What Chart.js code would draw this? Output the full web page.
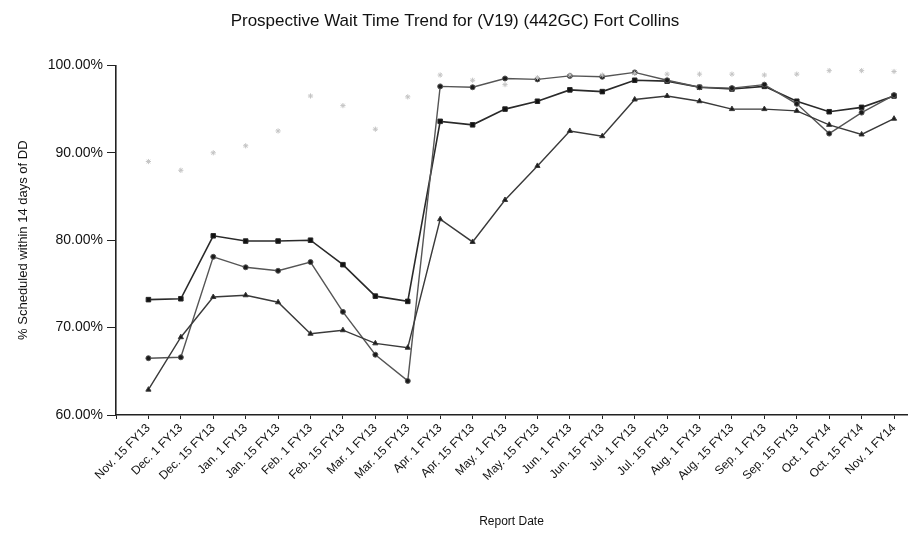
<!DOCTYPE html>
<html>
<head>
<meta charset="utf-8">
<script src="https://cdn.jsdelivr.net/npm/chart.js@4.4.1/dist/chart.umd.min.js"></script>
<style>
  html, body { margin: 0; padding: 0; background: #fff; }
  #wrap { width: 912px; height: 533px; }
</style>
</head>
<body>
<div id="wrap"><canvas id="waitChart" width="912" height="533"></canvas></div>
<script>
let reportDates = [
    "Nov. 15 FY13", "Dec. 1 FY13", "Dec. 15 FY13", "Jan. 1 FY13", "Jan. 15 FY13",
    "Feb. 1 FY13", "Feb. 15 FY13", "Mar. 1 FY13", "Mar. 15 FY13", "Apr. 1 FY13",
    "Apr. 15 FY13", "May. 1 FY13", "May. 15 FY13", "Jun. 1 FY13", "Jun. 15 FY13",
    "Jul. 1 FY13", "Jul. 15 FY13", "Aug. 1 FY13", "Aug. 15 FY13", "Sep. 1 FY13",
    "Sep. 15 FY13", "Oct. 1 FY14", "Oct. 15 FY14", "Nov. 1 FY14"
];

let squareSeries = [73.2, 73.3, 80.5, 79.9, 79.9, 80.0, 77.2, 73.6, 73.0, 93.6, 93.2, 95.0,
    95.9, 97.2, 97.0, 98.3, 98.2, 97.5, 97.3, 97.6, 95.9, 94.7, 95.2, 96.5];
let diamondSeries = [66.5, 66.6, 78.1, 76.9, 76.5, 77.5, 71.8, 66.9, 63.9, 97.6, 97.5, 98.5,
    98.4, 98.8, 98.7, 99.2, 98.3, 97.5, 97.4, 97.8, 95.6, 92.2, 94.6, 96.6];
let triangleSeries = [62.9, 68.9, 73.5, 73.7, 72.9, 69.3, 69.7, 68.2, 67.7, 82.4, 79.8, 84.6,
    88.5, 92.5, 91.9, 96.1, 96.5, 95.9, 95.0, 95.0, 94.8, 93.2, 92.1, 93.9];
let faintSeries = [89.0, 88.0, 90.0, 90.8, 92.5, 96.5, 95.4, 92.7, 96.4, 98.9, 98.3, 97.8,
    98.6, 98.9, 98.9, 99.1, 99.0, 99.0, 99.0, 98.9, 99.0, 99.4, 99.4, 99.3];

let yTicks = [60, 70, 80, 90, 100];

// x is a linear scale so the first date sits one full step away from the y axis
function toPoints(arr) {
    return arr.map((v, i) => ({ x: i, y: v }));
}

let ctx = document.getElementById('waitChart').getContext('2d');
let waitChart = new Chart(ctx, {
    type: 'line',
    data: {
        datasets: [{
            data: toPoints(faintSeries),
            showLine: false,
            pointStyle: 'star',
            pointRadius: 2.6,
            borderWidth: 1,
            borderColor: '#c4c4c4',
            backgroundColor: '#c4c4c4'
        },
        {
            data: toPoints(triangleSeries),
            borderColor: '#3a3a3a',
            backgroundColor: '#1a1a1a',
            borderWidth: 1.4,
            pointStyle: 'triangle',
            pointRadius: 3,
            pointBorderWidth: 1
        },
        {
            data: toPoints(diamondSeries),
            borderColor: '#555555',
            backgroundColor: '#1a1a1a',
            borderWidth: 1.4,
            pointStyle: 'circle',
            pointRadius: 2.5,
            pointBorderWidth: 1
        },
        {
            data: toPoints(squareSeries),
            borderColor: '#2a2a2a',
            backgroundColor: '#111111',
            borderWidth: 1.6,
            pointStyle: 'rect',
            pointRadius: 3.2,
            pointBorderWidth: 1
        }]
    },
    options: {
        responsive: false,
        animation: false,
        layout: { padding: { left: 0, right: 2, top: 0, bottom: 0 } },
        plugins: {
            legend: { display: false },
            tooltip: { enabled: false },
            title: {
                display: true,
                text: 'Prospective Wait Time Trend for (V19) (442GC) Fort Collins',
                color: '#111',
                font: { family: "'Liberation Sans Narrow', 'Liberation Sans', Arial, sans-serif", size: 17, weight: 'normal' },
                padding: { top: 11, bottom: 34 }
            }
        },
        scales: {
            x: {
                type: 'linear',
                min: -1,
                max: 23.4,
                // one tick at the axis, then one per report date
                afterBuildTicks: (scale) => {
                    scale.ticks = [{ value: -1 }].concat(reportDates.map((d, i) => ({ value: i })));
                },
                afterFit: (scale) => { scale.height = 118; },
                ticks: {
                    autoSkip: false,
                    minRotation: 45,
                    maxRotation: 45,
                    padding: 2,
                    color: '#111',
                    font: { family: "'Liberation Sans', Arial, sans-serif", size: 12 },
                    callback: (value) => reportDates[value] || ''
                },
                grid: {
                    drawOnChartArea: false,
                    drawTicks: true,
                    tickLength: 4,
                    color: '#222'
                },
                border: { color: '#222', width: 1.6 },
                title: {
                    display: true,
                    text: 'Report Date',
                    color: '#111',
                    font: { family: "'Liberation Sans', Arial, sans-serif", size: 12 },
                    padding: { top: 2, bottom: 4 }
                }
            },
            y: {
                min: 60,
                max: 100,
                afterBuildTicks: (scale) => {
                    scale.ticks = yTicks.map(v => ({ value: v }));
                },
                afterFit: (scale) => { scale.width = 116; },
                ticks: {
                    padding: 4,
                    color: '#111',
                    font: { family: "'Liberation Sans', Arial, sans-serif", size: 14 },
                    callback: (value) => value.toFixed(2) + '%'
                },
                grid: {
                    drawOnChartArea: false,
                    drawTicks: true,
                    tickLength: 9,
                    color: '#222'
                },
                border: { color: '#222', width: 1.6 },
                title: {
                    display: true,
                    text: '% Scheduled within 14 days of DD',
                    color: '#111',
                    font: { family: "'Liberation Sans', Arial, sans-serif", size: 13 },
                    padding: { top: 16, bottom: 0 }
                }
            }
        }
    }
});
</script>
</body>
</html>
